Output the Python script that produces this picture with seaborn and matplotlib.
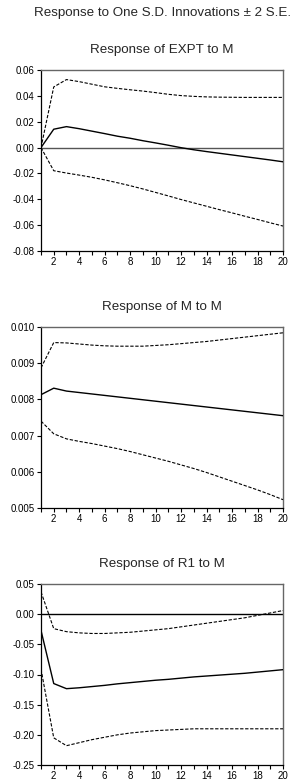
import numpy as np
import pandas as pd
import matplotlib
matplotlib.use("Agg")
import matplotlib.pyplot as plt
import seaborn as sns

periods = list(range(1, 21))

main_title = "Response to One S.D. Innovations \u00b1 2 S.E."
panel_titles = ["Response of EXPT to M", "Response of M to M", "Response of R1 to M"]

expt_resp = [0.0, 0.0142, 0.0162, 0.0146, 0.0127, 0.0108, 0.0088, 0.0072, 0.0053, 0.0036,
             0.0018, -0.0001, -0.0017, -0.0031, -0.0044, -0.0057, -0.0070, -0.0083, -0.0096, -0.0110]
expt_upper = [0.0, 0.0469, 0.0526, 0.0510, 0.0490, 0.0470, 0.0458, 0.0447, 0.0437, 0.0425,
              0.0412, 0.0402, 0.0396, 0.0392, 0.0390, 0.0389, 0.0388, 0.0388, 0.0388, 0.0388]
expt_lower = [0.0, -0.0179, -0.0197, -0.0213, -0.0230, -0.0250, -0.0272, -0.0295, -0.0320, -0.0347,
              -0.0374, -0.0402, -0.0428, -0.0454, -0.0480, -0.0505, -0.0531, -0.0556, -0.0582, -0.0607]

m_resp = [0.00813, 0.00831, 0.00823, 0.00819, 0.00815, 0.00811, 0.00807, 0.00803, 0.00799, 0.00795,
          0.00791, 0.00787, 0.00783, 0.00779, 0.00775, 0.00771, 0.00767, 0.00763, 0.00759, 0.00755]
m_upper = [0.00887, 0.00957, 0.00956, 0.00953, 0.00950, 0.00948, 0.00947, 0.00947, 0.00947, 0.00949,
           0.00951, 0.00954, 0.00957, 0.00960, 0.00964, 0.00968, 0.00972, 0.00976, 0.00980, 0.00984]
m_lower = [0.00740, 0.00705, 0.00691, 0.00684, 0.00678, 0.00671, 0.00664, 0.00656, 0.00647, 0.00638,
           0.00629, 0.00619, 0.00609, 0.00598, 0.00586, 0.00574, 0.00562, 0.00550, 0.00537, 0.00523]

r1_resp = [-0.027, -0.115, -0.1235, -0.122, -0.120, -0.118, -0.1155, -0.1135, -0.1115, -0.1095,
           -0.108, -0.106, -0.104, -0.1025, -0.101, -0.0995, -0.098, -0.096, -0.094, -0.092]
r1_upper = [0.037, -0.024, -0.029, -0.031, -0.032, -0.032, -0.031, -0.030, -0.028, -0.026,
            -0.024, -0.021, -0.018, -0.015, -0.012, -0.009, -0.006, -0.002, 0.002, 0.006]
r1_lower = [-0.091, -0.205, -0.218, -0.213, -0.208, -0.204, -0.200, -0.197, -0.195, -0.193,
            -0.192, -0.191, -0.190, -0.190, -0.190, -0.190, -0.190, -0.190, -0.190, -0.190]

y_ticks = [
    [-0.08, -0.06, -0.04, -0.02, 0.00, 0.02, 0.04, 0.06],
    [0.005, 0.006, 0.007, 0.008, 0.009, 0.010],
    [-0.25, -0.20, -0.15, -0.10, -0.05, 0.00, 0.05],
]
y_fmt = ["{:.2f}", "{:.3f}", "{:.2f}"]
x_labels = [2, 4, 6, 8, 10, 12, 14, 16, 18, 20]

series = [
    (expt_resp, expt_upper, expt_lower),
    (m_resp, m_upper, m_lower),
    (r1_resp, r1_upper, r1_lower),
]
zero_line = [True, False, True]
zero_color = ["#555555", None, "black"]

sns.set_style("ticks")
plt.rcParams["font.family"] = ["Liberation Sans", "DejaVu Sans"]

W, H = 292, 782
fig = plt.figure(figsize=(W / 100, H / 100), dpi=100)

left_px, right_px = 41, 283
tops = [70, 327, 584]
h_px = 181

fig.text(163 / W, 1 - 13 / H, main_title, ha="center", va="center", fontsize=9.6)

for i, (resp, up, lo) in enumerate(series):
    top = tops[i]
    ax = fig.add_axes([left_px / W, 1 - (top + h_px) / H, (right_px - left_px) / W, h_px / H])
    df = pd.DataFrame({"period": periods, "resp": resp, "upper": up, "lower": lo})
    if zero_line[i]:
        ax.axhline(0, color=zero_color[i], lw=1.0, zorder=1)
    sns.lineplot(data=df, x="period", y="resp", ax=ax, color="black", lw=1.0, zorder=3)
    sns.lineplot(data=df, x="period", y="upper", ax=ax, color="black", lw=0.8,
                 zorder=3).lines[-1].set_dashes((3, 1.5))
    sns.lineplot(data=df, x="period", y="lower", ax=ax, color="black", lw=0.8,
                 zorder=3).lines[-1].set_dashes((3, 1.5))
    ax.set_xlim(1, 20)
    ax.set_ylim(y_ticks[i][0], y_ticks[i][-1])
    ax.set_xticks(periods)
    ax.set_xticklabels([str(p) if p in x_labels else "" for p in periods])
    ax.set_yticks(y_ticks[i])
    ax.set_yticklabels([y_fmt[i].format(v) for v in y_ticks[i]])
    ax.tick_params(axis="both", direction="out", length=3, width=0.8, labelsize=7,
                   pad=1.5, colors="black")
    ax.set_xlabel("")
    ax.set_ylabel("")
    for s in ["left", "bottom"]:
        ax.spines[s].set_color("black")
        ax.spines[s].set_linewidth(0.9)
    for s in ["top", "right"]:
        ax.spines[s].set_visible(True)
        ax.spines[s].set_color("#666666")
        ax.spines[s].set_linewidth(1.0)
    ax.text(0.5, 1 + 20 / h_px, panel_titles[i], transform=ax.transAxes,
            ha="center", va="center", fontsize=9.6)

fig.savefig("out.png", dpi=100)
